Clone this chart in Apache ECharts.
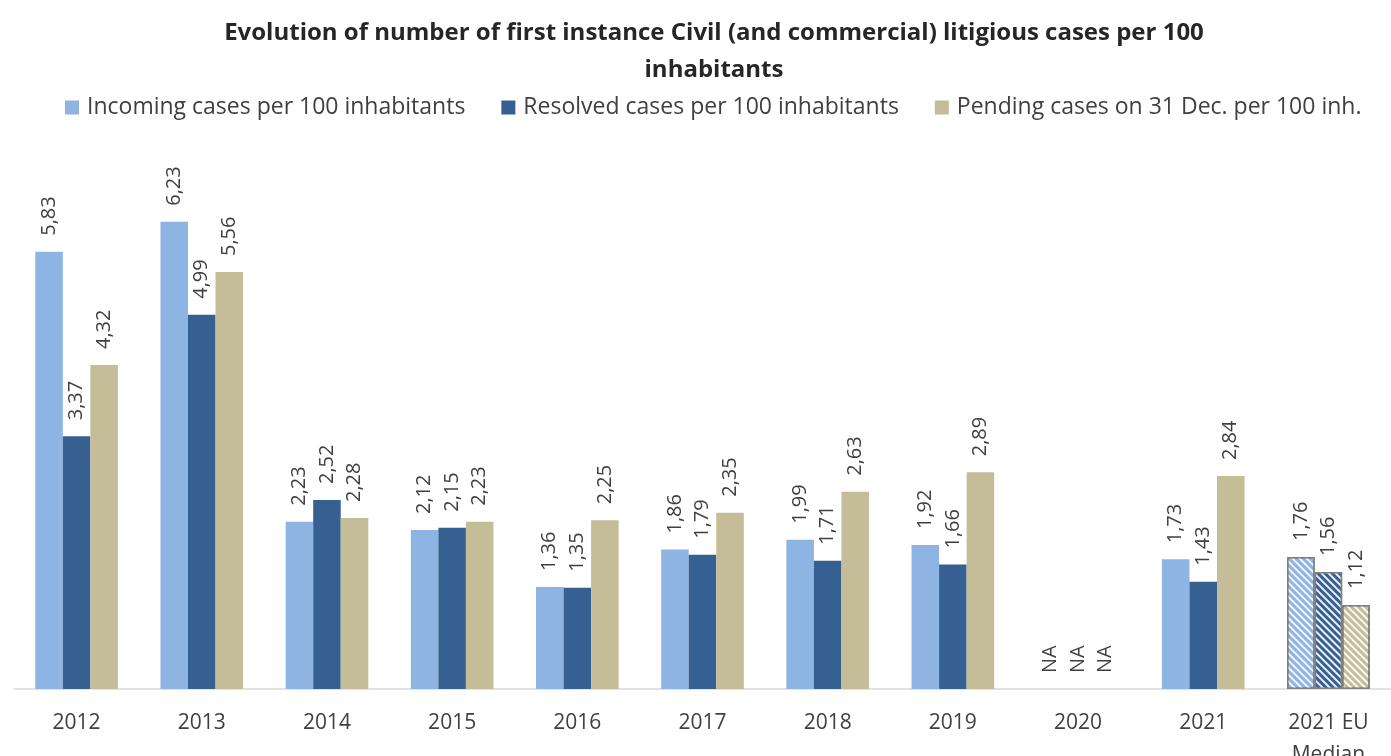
<!DOCTYPE html>
<html>
<head>
<meta charset="utf-8">
<script src="https://cdn.jsdelivr.net/npm/echarts@6/dist/echarts.min.js"></script>
<style>
html,body{margin:0;padding:0;background:#fff;}
#chart{width:1391px;height:756px;}
</style>
</head>
<body>
<div id="chart"></div>
<script>
const categories = ['2012','2013','2014','2015','2016','2017','2018','2019','2020','2021','2021 EU\nMedian'];
const incoming = [5.83, 6.23, 2.23, 2.12, 1.36, 1.86, 1.99, 1.92, null, 1.73, 1.76];
const resolved = [3.37, 4.99, 2.52, 2.15, 1.35, 1.79, 1.71, 1.66, null, 1.43, 1.56];
const pending  = [4.32, 5.56, 2.28, 2.23, 2.25, 2.35, 2.63, 2.89, null, 2.84, 1.12];
const seriesNames = ['Incoming cases per 100 inhabitants','Resolved cases per 100 inhabitants','Pending cases on 31 Dec. per 100 inh.'];
const colors = ['#8EB4E3','#376092','#C4BD97'];
const FONT = '"Open Sans", "Noto Sans", sans-serif';
const medianIndex = categories.length - 1;

function fmt(v){ return v.toFixed(2).replace('.', ','); }

function buildData(arr, color){
  return arr.map((v, i) => {
    if (v === null) {
      return { value: 0, isNA: true };
    }
    if (i === medianIndex) {
      return {
        value: v,
        itemStyle: {
          color: color,
          borderColor: '#7F7F7F',
          borderWidth: 1.5,
          decal: {
            symbol: 'rect',
            symbolSize: 1,
            color: 'rgba(255,255,255,0.9)',
            dashArrayX: [1, 0],
            dashArrayY: [2, 3],
            rotation: Math.PI / 4
          }
        }
      };
    }
    return v;
  });
}

const arrays = [incoming, resolved, pending];
const series = arrays.map((arr, k) => ({
  name: seriesNames[k],
  type: 'bar',
  data: buildData(arr, colors[k]),
  itemStyle: { color: colors[k] },
  barGap: '0%',
  barCategoryGap: '34%',
  label: {
    show: true,
    position: 'top',
    rotate: 90,
    align: 'left',
    verticalAlign: 'middle',
    distance: 16,
    color: '#404040',
    fontSize: 20,
    fontFamily: FONT,
    formatter: p => (p.data && p.data.isNA) ? 'NA' : fmt(p.value)
  }
}));

const chart = echarts.init(document.getElementById('chart'));
chart.setOption({
  animation: false,
  title: {
    text: 'Evolution of number of first instance Civil (and commercial) litigious cases per 100\ninhabitants',
    left: 709,
    textAlign: 'center',
    top: 10,
    textStyle: { fontFamily: FONT, fontWeight: 'bold', fontSize: 24, color: '#262626', lineHeight: 37 }
  },
  legend: {
    top: 91,
    left: 60,
    itemWidth: 14,
    itemHeight: 14,
    itemGap: 36,
    textStyle: { fontFamily: FONT, fontSize: 23, color: '#404040', padding: [0, 0, 0, 3] },
    data: seriesNames.map(n => ({ name: n, icon: 'rect' }))
  },
  grid: { left: 14, right: 0, top: 164, bottom: 67, containLabel: false, outerBoundsMode: 'none' },
  xAxis: {
    type: 'category',
    data: categories,
    axisLine: { lineStyle: { color: '#D9D9D9', width: 1.5 } },
    axisTick: { show: false },
    axisLabel: { color: '#404040', fontSize: 21, fontFamily: FONT, margin: 18, lineHeight: 32, interval: 0 }
  },
  yAxis: {
    type: 'value',
    min: 0,
    max: 7,
    show: false,
    splitLine: { show: false }
  },
  series: series
});
</script>
</body>
</html>
